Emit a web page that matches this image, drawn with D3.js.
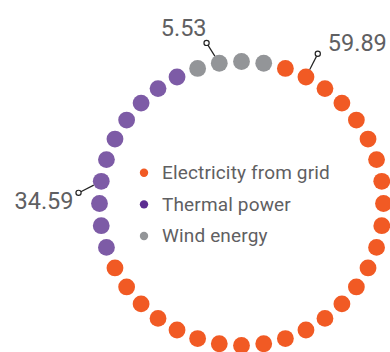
<!DOCTYPE html>
<html>
  <head>
    <meta charset="utf-8">
    <title>Energy dots</title>
    <script src="https://d3js.org/d3.v7.min.js"></script>
    <style>
      body { margin: 0; background: #fff; }
      text { font-family: Roboto, "Open Sans", sans-serif; fill: #5f6062; }
    </style>
  </head>
  <body>
    <script>
      // data
      const categories = ["Electricity from grid", "Thermal power", "Wind energy"];
      const values = [59.89, 34.59, 5.53];
      const dotCounts = [26, 10, 4];      // dots per series, clockwise
      const labelDot = [1, 3, 1];         // which dot of the series carries the label

      const width = 390;
      const height = 352;
      const cx = 241.5;
      const cy = 203.5;
      const radius = 142;
      const dotR = 8.4;

      const dotColor = d3.scaleOrdinal()
        .domain(categories)
        .range(["#f15a24", "#7d5ba6", "#939598"]);
      const legendColor = d3.scaleOrdinal()
        .domain(categories)
        .range(["#f15a24", "#5c2d91", "#939598"]);

      const total = d3.sum(dotCounts);
      // dot index -> angle in degrees, clockwise from 12 o'clock
      const angle = d3.scaleLinear()
        .domain([0, total])
        .range([18, 378]);

      const dots = [];
      let k = 0;
      categories.forEach(function(c, s) {
        for (let j = 0; j < dotCounts[s]; j++) {
          dots.push({cat: c, series: s, j: j, i: k});
          k++;
        }
      });

      function pos(i) {
        const a = angle(i) * Math.PI / 180;
        return [cx + radius * Math.sin(a), cy - radius * Math.cos(a)];
      }

      const svg = d3.select("body")
        .append("svg")
          .attr("width", width)
          .attr("height", height);

      svg.append("g")
        .selectAll("circle")
        .data(dots)
        .join("circle")
          .attr("cx", function(d) { return pos(d.i)[0]; })
          .attr("cy", function(d) { return pos(d.i)[1]; })
          .attr("r", dotR)
          .attr("fill", function(d) { return dotColor(d.cat); });

      // value labels with little leader lines
      // leader direction (deg) and length, text offset from the leader end
      const labelPlace = [
        {dir: 27, len: 26, dx: 10, dy: -3, anchor: "start"},
        {dir: -117, len: 25.5, dx: -5, dy: 16, anchor: "end"},
        {dir: -32, len: 24, dx: 0, dy: -7, anchor: "end"}
      ];

      const labels = svg.append("g");
      categories.forEach(function(c, s) {
        const d = dots.find(function(e) { return e.series === s && e.j === labelDot[s]; });
        const p = pos(d.i);
        const pl = labelPlace[s];
        const a = pl.dir * Math.PI / 180;
        const ux = Math.sin(a), uy = -Math.cos(a);
        const ex = p[0] + ux * pl.len, ey = p[1] + uy * pl.len;
        labels.append("line")
          .attr("x1", p[0] + ux * dotR)
          .attr("y1", p[1] + uy * dotR)
          .attr("x2", ex - ux * 2.6)
          .attr("y2", ey - uy * 2.6)
          .attr("stroke", "#222")
          .attr("stroke-width", 1.2);
        labels.append("circle")
          .attr("cx", ex)
          .attr("cy", ey)
          .attr("r", 2.6)
          .attr("fill", "#fff")
          .attr("stroke", "#222")
          .attr("stroke-width", 1.2);
        labels.append("text")
          .attr("x", ex + pl.dx)
          .attr("y", ey + pl.dy)
          .attr("text-anchor", pl.anchor)
          .attr("font-size", 23.5)
          .text(d3.format(".2f")(values[s]));
      });

      // legend
      const legendY = d3.scalePoint()
        .domain(categories)
        .range([172.7, 236]);

      const legend = svg.append("g");
      legend.selectAll("circle")
        .data(categories)
        .join("circle")
          .attr("cx", 144)
          .attr("cy", function(d) { return legendY(d); })
          .attr("r", 4.2)
          .attr("fill", function(d) { return legendColor(d); });
      legend.selectAll("text")
        .data(categories)
        .join("text")
          .attr("x", 162)
          .attr("y", function(d) { return legendY(d) + 6.3; })
          .attr("font-size", 19)
          .attr("letter-spacing", 0.15)
          .text(function(d) { return d; });
    </script>
  </body>
</html>
